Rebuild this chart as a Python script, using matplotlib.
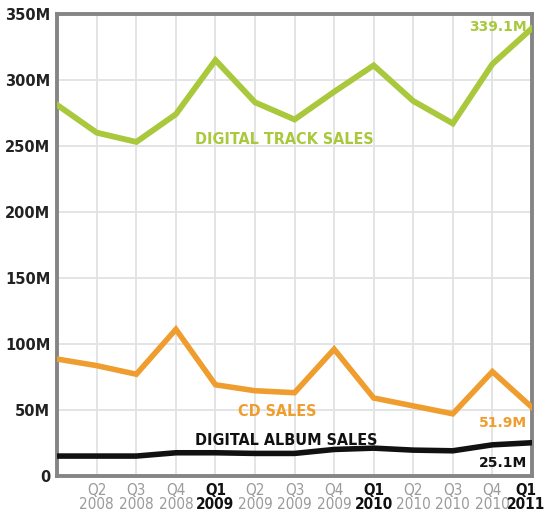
import matplotlib
matplotlib.use('Agg')
import matplotlib.pyplot as plt

# 数据（百万）
quarters = ['Q1\n2008', 'Q2\n2008', 'Q3\n2008', 'Q4\n2008', 'Q1\n2009', 'Q2\n2009', 'Q3\n2009',
            'Q4\n2009', 'Q1\n2010', 'Q2\n2010', 'Q3\n2010', 'Q4\n2010', 'Q1\n2011']
track_sales = [281, 260, 253, 274, 315, 283, 270, 291, 311, 284, 267, 312, 339.1]
cd_sales = [88.5, 83.5, 77, 111, 69, 64.5, 63, 96, 59, 53, 47, 79, 51.9]
album_sales = [15, 15, 15, 17.5, 17.5, 17, 17, 20, 21, 19.5, 19, 23.5, 25.1]
y_ticks = [0, 50, 100, 150, 200, 250, 300, 350]
y_labels = ['0', '50M', '100M', '150M', '200M', '250M', '300M', '350M']

green = '#a9c83b'
orange = '#ee9d2e'
narrow = dict(family='DejaVu Sans', stretch='condensed')

fig = plt.figure(figsize=(5.45, 5.15), dpi=100)
ax = fig.add_axes([0.105, 0.076, 0.871, 0.897])

x = list(range(len(quarters)))
ax.plot(x, track_sales, color=green, lw=4.2, solid_joinstyle='miter', zorder=3)
ax.plot(x, cd_sales, color=orange, lw=4.0, solid_joinstyle='miter', zorder=3)
ax.plot(x, album_sales, color='#111111', lw=4.0, zorder=3)

ax.set_xlim(0, len(quarters) - 1)
ax.set_ylim(0, 350)
ax.set_yticks(y_ticks)
ax.set_yticklabels(y_labels, fontsize=10.5, fontweight='bold', color='#222222')
ax.set_xticks(x)
# 第一个和最后一个刻度不放标签，最后一个单独画（稍微左移，避免被裁掉）
ax.set_xticklabels([''] + quarters[1:-1] + [''], fontsize=11, linespacing=0.9, **narrow)
for i, lab in enumerate(ax.get_xticklabels()):
    if quarters[i].startswith('Q1'):
        lab.set_color('#111111')
        lab.set_fontweight('bold')
    else:
        lab.set_color('#9a9a9a')
ax.annotate(quarters[-1], xy=(x[-1], 0), xycoords='data', xytext=(-4, -5.5),
            textcoords='offset points', ha='center', va='top', fontsize=11,
            linespacing=0.9, fontweight='bold', color='#111111', annotation_clip=False, **narrow)
ax.tick_params(length=0, pad=5)
ax.tick_params(axis='y', pad=5)

ax.grid(True, color='#e0e2e4', lw=1.3, zorder=0)
for s in ax.spines.values():
    s.set_color('#858585')
    s.set_linewidth(2.8)

# 系列标签
ax.text(5.75, 255, 'DIGITAL TRACK SALES', color=green, fontsize=11.5,
        fontweight='bold', ha='center', va='center', **narrow)
ax.text(5.55, 49, 'CD SALES', color=orange, fontsize=11.5,
        fontweight='bold', ha='center', va='center', **narrow)
ax.text(5.8, 27, 'DIGITAL ALBUM SALES', color='#111111', fontsize=11.5,
        fontweight='bold', ha='center', va='center', **narrow)

ax.text(11.88, 340, '%.1fM' % track_sales[-1], color=green, fontsize=10, fontweight='bold',
        ha='right', va='center')
ax.text(11.88, 40, '%.1fM' % cd_sales[-1], color=orange, fontsize=10, fontweight='bold',
        ha='right', va='center')
ax.text(11.88, 9.5, '%.1fM' % album_sales[-1], color='#111111', fontsize=10, fontweight='bold',
        ha='right', va='center')

fig.savefig('out.png', dpi=100)
